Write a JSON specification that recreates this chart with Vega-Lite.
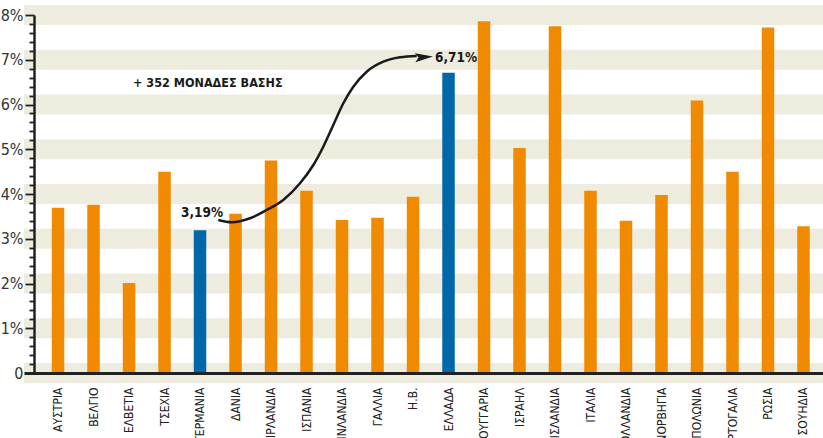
{
  "$schema": "https://vega.github.io/schema/vega-lite/v6.json",
  "width": 799,
  "height": 358,
  "autosize": "none",
  "padding": {"left": 24, "top": 15, "right": 0, "bottom": 65},
  "background": "white",
  "config": {"view": {"stroke": null}, "font": "Liberation Sans Narrow, DejaVu Sans Condensed, Roboto, sans-serif"},
  "datasets": {
    "bands": [{"v": 0}, {"v": 1}, {"v": 2}, {"v": 3}, {"v": 4}, {"v": 5}, {"v": 6}, {"v": 7}, {"v": 8}],
    "bars": [
      {"country": "ΑΥΣΤΡΙΑ", "value": 3.69, "group": "other"},
      {"country": "ΒΕΛΓΙΟ", "value": 3.76, "group": "other"},
      {"country": "ΕΛΒΕΤΙΑ", "value": 2.01, "group": "other"},
      {"country": "ΤΣΕΧΙΑ", "value": 4.5, "group": "other"},
      {"country": "ΓΕΡΜΑΝΙΑ", "value": 3.19, "group": "highlight"},
      {"country": "ΔΑΝΙΑ", "value": 3.56, "group": "other"},
      {"country": "ΙΡΛΑΝΔΙΑ", "value": 4.75, "group": "other"},
      {"country": "ΙΣΠΑΝΙΑ", "value": 4.07, "group": "other"},
      {"country": "ΦΙΝΛΑΝΔΙΑ", "value": 3.42, "group": "other"},
      {"country": "ΓΑΛΛΙΑ", "value": 3.47, "group": "other"},
      {"country": "Η.Β.", "value": 3.94, "group": "other"},
      {"country": "ΕΛΛΑΔΑ", "value": 6.71, "group": "highlight"},
      {"country": "ΟΥΓΓΑΡΙΑ", "value": 7.86, "group": "other"},
      {"country": "ΙΣΡΑΗΛ", "value": 5.03, "group": "other"},
      {"country": "ΙΣΛΑΝΔΙΑ", "value": 7.75, "group": "other"},
      {"country": "ΙΤΑΛΙΑ", "value": 4.07, "group": "other"},
      {"country": "ΟΛΛΑΝΔΙΑ", "value": 3.4, "group": "other"},
      {"country": "ΝΟΡΒΗΓΙΑ", "value": 3.98, "group": "other"},
      {"country": "ΠΟΛΩΝΙΑ", "value": 6.09, "group": "other"},
      {"country": "ΠΟΡΤΟΓΑΛΙΑ", "value": 4.5, "group": "other"},
      {"country": "ΡΩΣΙΑ", "value": 7.72, "group": "other"},
      {"country": "ΣΟΥΗΔΙΑ", "value": 3.28, "group": "other"}
    ],
    "arrow": [
      {"i": 4.515, "v": 3.419},
      {"i": 4.893, "v": 3.368},
      {"i": 5.408, "v": 3.457},
      {"i": 5.879, "v": 3.642},
      {"i": 6.346, "v": 3.866},
      {"i": 6.817, "v": 4.239},
      {"i": 7.192, "v": 4.648},
      {"i": 7.473, "v": 5.057},
      {"i": 7.755, "v": 5.542},
      {"i": 8.037, "v": 6.027},
      {"i": 8.318, "v": 6.398},
      {"i": 8.696, "v": 6.733},
      {"i": 9.163, "v": 6.956},
      {"i": 9.634, "v": 7.055},
      {"i": 10.104, "v": 7.084}
    ]
  },
  "resolve": {"scale": {"x": "independent"}},
  "layer": [
    {
      "data": {"name": "bands"},
      "mark": {"type": "rule", "strokeWidth": 20, "color": "#EEEBDF"},
      "encoding": {
        "y": {
          "field": "v", "type": "quantitative", "scale": {"domain": [0, 8], "nice": false, "zero": true},
          "axis": {
            "title": null, "offset": -10, "tickCount": 41,
            "values": [0, 0.2, 0.4, 0.6, 0.8, 1, 1.2, 1.4, 1.6, 1.8, 2, 2.2, 2.4, 2.6, 2.8, 3, 3.2, 3.4, 3.6, 3.8, 4, 4.2, 4.4, 4.6, 4.8, 5, 5.2, 5.4, 5.6, 5.8, 6, 6.2, 6.4, 6.6, 6.8, 7, 7.2, 7.4, 7.6, 7.8, 8],
            "domain": true, "domainColor": "#222222", "domainWidth": 2.5,
            "ticks": true, "tickColor": "#222222", "tickWidth": 1.8,
            "tickSize": {"condition": {"test": "datum.value % 1 === 0", "value": 9}, "value": 5},
            "labelExpr": "datum.value === 0 ? '0' : (datum.value % 1 === 0 ? datum.value + '%' : '')",
            "labelFontSize": 16, "labelColor": "#333333", "labelPadding": 2,
            "labelOverlap": false, "grid": false, "zindex": 1
          }
        }
      }
    },
    {
      "data": {"name": "bars"},
      "mark": {"type": "bar"},
      "encoding": {
        "x": {
          "field": "country", "type": "nominal", "sort": null,
          "scale": {"paddingInner": 0.648, "paddingOuter": 0.578, "align": 0.677},
          "axis": {
            "title": null, "labelAngle": -90, "labelAlign": "right", "labelBaseline": "middle",
            "ticks": false, "domain": true, "domainColor": "#222222", "domainWidth": 3,
            "labelPadding": 14, "labelFontSize": 12, "labelColor": "#222222", "zindex": 1,
            "labelOverlap": false, "labelLimit": 0
          }
        },
        "y": {"field": "value", "type": "quantitative", "title": null},
        "color": {
          "field": "group", "type": "nominal",
          "scale": {"domain": ["other", "highlight"], "range": ["#F08A00", "#0068A8"]},
          "legend": null
        }
      }
    },
    {
      "data": {"name": "arrow"},
      "mark": {"type": "line", "interpolate": "monotone", "strokeWidth": 2.5, "color": "#1a1a1a"},
      "encoding": {
        "x": {"field": "i", "type": "quantitative", "scale": {"domain": [-0.958, 21.549], "nice": false, "zero": false}, "axis": null},
        "y": {"field": "v", "type": "quantitative", "title": null}
      }
    },
    {
      "data": {"values": [{"i": 10.31, "v": 7.06}]},
      "mark": {"type": "point", "shape": "M1,0L-1,-0.5L-0.6,0L-1,0.5Z", "size": 324, "filled": true, "opacity": 1, "color": "#1a1a1a", "angle": -4},
      "encoding": {
        "x": {"field": "i", "type": "quantitative", "scale": {"domain": [-0.958, 21.549], "nice": false, "zero": false}, "axis": null},
        "y": {"field": "v", "type": "quantitative", "title": null}
      }
    },
    {
      "data": {"values": [{"i": 2.113, "v": 6.48, "label": "+ 352 ΜΟΝΑΔΕΣ ΒΑΣΗΣ"}]},
      "mark": {"type": "text", "align": "left", "baseline": "middle", "fontSize": 12.5, "fontWeight": "bold", "color": "#1a1a1a"},
      "encoding": {
        "x": {"field": "i", "type": "quantitative", "scale": {"domain": [-0.958, 21.549], "nice": false, "zero": false}, "axis": null},
        "y": {"field": "v", "type": "quantitative", "title": null},
        "text": {"field": "label"}
      }
    },
    {
      "data": {"values": [{"i": 4.65, "v": 3.57, "label": "3,19%"}]},
      "mark": {"type": "text", "align": "right", "baseline": "middle", "fontSize": 13.5, "fontWeight": "bold", "color": "#1a1a1a"},
      "encoding": {
        "x": {"field": "i", "type": "quantitative", "scale": {"domain": [-0.958, 21.549], "nice": false, "zero": false}, "axis": null},
        "y": {"field": "v", "type": "quantitative", "title": null},
        "text": {"field": "label"}
      }
    },
    {
      "data": {"values": [{"i": 10.62, "v": 7.05, "label": "6,71%"}]},
      "mark": {"type": "text", "align": "left", "baseline": "middle", "fontSize": 13.5, "fontWeight": "bold", "color": "#1a1a1a"},
      "encoding": {
        "x": {"field": "i", "type": "quantitative", "scale": {"domain": [-0.958, 21.549], "nice": false, "zero": false}, "axis": null},
        "y": {"field": "v", "type": "quantitative", "title": null},
        "text": {"field": "label"}
      }
    }
  ]
}
